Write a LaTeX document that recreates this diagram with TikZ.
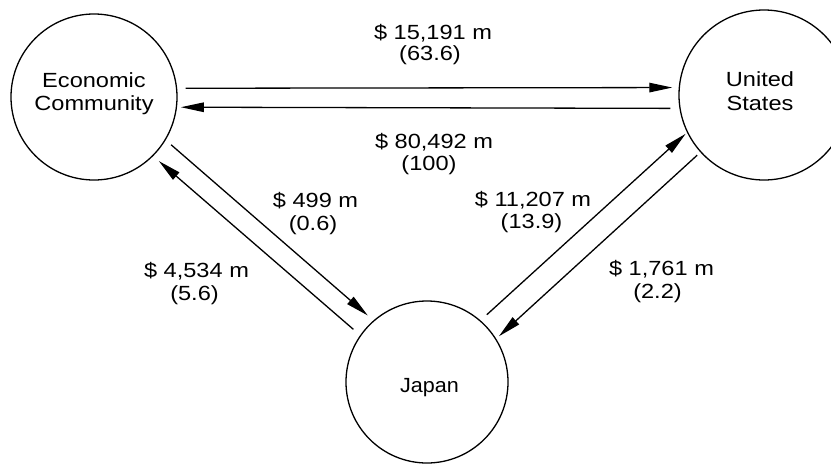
\documentclass[tikz,border=0pt]{standalone}
\usepackage{fontspec}
\setmainfont{Liberation Sans}[FakeStretch=1.15]
\newfontfamily\jpfont{Liberation Sans}[FakeStretch=1.05]
\usetikzlibrary{arrows.meta}
\begin{document}
\begin{tikzpicture}[x=1pt,y=-1pt,
  hub/.style={circle,draw,line width=1.3pt,inner sep=0pt},
  txt/.style={anchor=base,inner sep=0pt,font=\fontsize{20.5}{22}\selectfont},
  flow/.style={line width=1.3pt,-{Triangle[length=23pt,width=9.5pt]}}]
\useasboundingbox (0,0) rectangle (831,464);
\clip (0,0) rectangle (831,464);
% circles
\node[hub,minimum size=166pt] (ec) at (94,97) {};
\node[hub,minimum size=170pt] (us) at (764,95) {};
\node[hub,minimum size=162pt] (jp) at (427,382) {};
% circle texts
\node[txt] (ect1) at (94,87) {Economic};
\node[txt] (ect2) at (94,110) {Community};
\node[txt] (ust1) at (760,86) {United};
\node[txt] (ust2) at (760,110) {States};
\node[txt,font=\fontsize{20.5}{22}\jpfont] (jpt) at (429.5,392) {Japan};
% flows
\draw[flow,shorten <=8.5pt,shorten >=6.4pt] (ec.6.3) -- (us.175);
\draw[flow,shorten <=9pt,shorten >=3.8pt] (us.-171.4) -- (ec.-7.9);
\draw[flow,shorten <=7.2pt,shorten >=7.5pt] (ec.-31.4) -- (jp.131.8);
\draw[flow,shorten <=8.9pt,shorten >=7.5pt] (jp.145.4) -- (ec.-45.9);
\draw[flow,shorten <=8.4pt,shorten >=1.8pt] (jp.49.5) -- (us.-154);
\draw[flow,shorten <=4.3pt,shorten >=3.6pt] (us.-138.6) -- (jp.32.9);
% labels
\node[txt] (l1) at (433,39) {\$ 15,191 m};
\node[txt] (l1p) at (430,60) {(63.6)};
\node[txt] (l2) at (434,148) {\$ 80,492 m};
\node[txt] (l2p) at (429,170) {(100)};
\node[txt] (l3) at (315.5,207) {\$ 499 m};
\node[txt] (l3p) at (313,230) {(0.6)};
\node[txt] (l4) at (196.5,277) {\$ 4,534 m};
\node[txt] (l4p) at (194.5,300) {(5.6)};
\node[txt] (l5) at (533,206) {\$ 11,207 m};
\node[txt] (l5p) at (531.5,228) {(13.9)};
\node[txt] (l6) at (661.5,275) {\$ 1,761 m};
\node[txt] (l6p) at (657.5,298) {(2.2)};
\end{tikzpicture}
\end{document}
